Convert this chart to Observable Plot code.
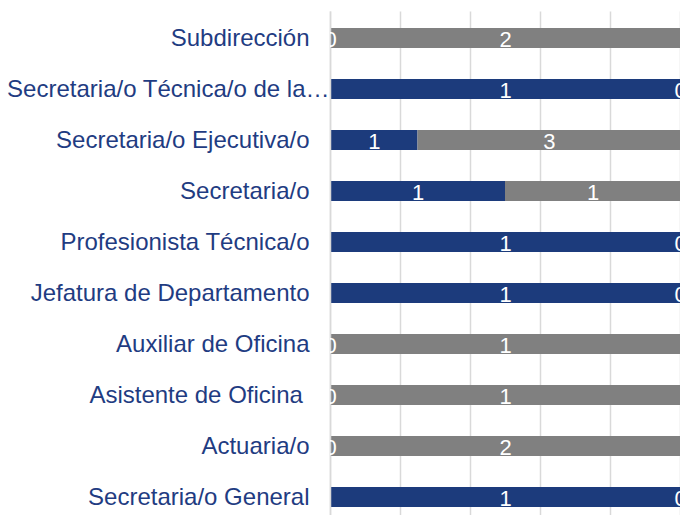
<!DOCTYPE html>
<html>
<head>
<meta charset="utf-8">
<script src="https://cdn.jsdelivr.net/npm/d3@7"></script>
<script src="https://cdn.jsdelivr.net/npm/@observablehq/plot@0.6"></script>
<style>
  html, body { margin: 0; padding: 0; background: #fff; overflow: hidden; }
  #chart svg { display: block; }
</style>
</head>
<body>
<div id="chart"></div>
<script>
const categories = [
  "Subdirección",
  "Secretaria/o Técnica/o de la…",
  "Secretaria/o Ejecutiva/o",
  "Secretaria/o",
  "Profesionista Técnica/o",
  "Jefatura de Departamento",
  "Auxiliar de Oficina",
  "Asistente de Oficina ",
  "Actuaria/o",
  "Secretaria/o General"
];
const seriesNames = ["Mujeres", "Hombres"];
const mujeres = [0, 1, 1, 1, 1, 1, 0, 0, 0, 1];
const hombres = [2, 0, 3, 1, 0, 0, 1, 1, 2, 0];
const gridTicks = [0, 0.2, 0.4, 0.6, 0.8, 1];

const data = [];
categories.forEach((c, i) => {
  data.push({cat: c, series: seriesNames[0], value: mujeres[i]});
  data.push({cat: c, series: seriesNames[1], value: hombres[i]});
});

const font = "'Liberation Sans', Arial, sans-serif";
const labelColor = "#1f3c82";
const truncated = categories.filter(c => c.endsWith("…"));
const regular = categories.filter(c => !c.endsWith("…"));

const chart = Plot.plot({
  width: 680,
  height: 523,
  marginLeft: 330,
  marginRight: 0,
  marginTop: 11.5,
  marginBottom: 0,
  style: {fontFamily: font, background: "#fff"},
  x: {domain: [0, 1], axis: null},
  y: {domain: categories, paddingInner: 0.61, paddingOuter: 0.305, axis: null},
  color: {domain: seriesNames, range: ["#1c3b7c", "#808080"]},
  marks: [
    Plot.gridX(gridTicks, {stroke: "#d9d9d9", strokeOpacity: 1, strokeWidth: 1.5}),
    Plot.barX(data, Plot.stackX({
      x: "value", y: "cat", fill: "series", offset: "normalize", order: seriesNames
    })),
    Plot.ruleX([0], {stroke: "#d9d9d9", strokeWidth: 1.5}),
    Plot.text(data, Plot.stackX({
      x: "value", y: "cat", z: "series", text: d => String(d.value),
      offset: "normalize", order: seriesNames,
      fill: "white", fontSize: 22, dy: 1.5, clip: true
    })),
    Plot.axisY({
      ticks: regular,
      tickSize: 0, tickPadding: 21, fontSize: 24, fill: labelColor,
      label: null, tickFormat: d => d, textAnchor: "end"
    }),
    Plot.axisY({
      ticks: truncated,
      tickSize: 0, tickPadding: 1, fontSize: 24, fill: labelColor,
      label: null, tickFormat: d => d, textAnchor: "end"
    })
  ]
});
document.getElementById("chart").appendChild(chart);
</script>
</body>
</html>
